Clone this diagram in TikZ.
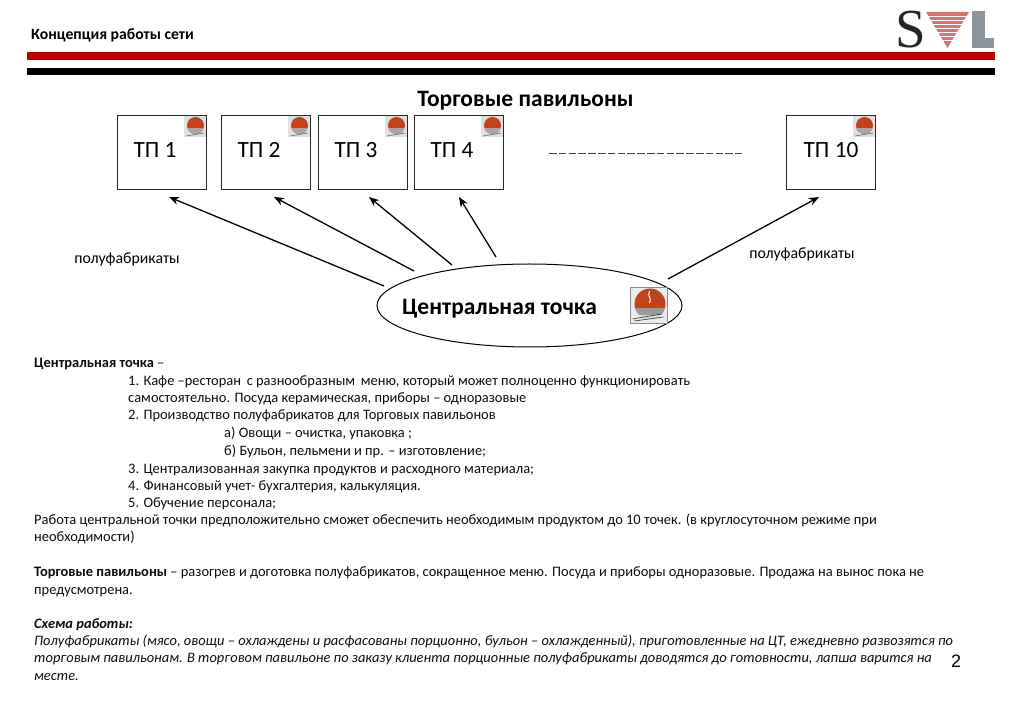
\documentclass[tikz,border=0pt]{standalone}
\usepackage{fontspec}
\setmainfont{Carlito}
\newfontfamily\lib{Liberation Sans}
\newfontfamily\libs{Liberation Serif}
\usetikzlibrary{arrows.meta,shapes.geometric}
\definecolor{svlred}{HTML}{C00000}
\definecolor{svlgray}{HTML}{8C959C}
\definecolor{logored}{HTML}{C4421A}
\tikzset{
  x=1pt,y=-1pt,
  tp/.style={draw=black!85,line width=1pt,fill=white,minimum width=89pt,minimum height=74pt,inner sep=0pt},
  tptext/.style={font=\fontsize{23.3}{25}\selectfont,anchor=base,inner sep=0pt},
  body/.style={font=\fontsize{14.45}{16}\selectfont,anchor=base west,inner sep=0pt,text=black!95},
  bodyi/.style={body,font=\fontsize{14.45}{16}\selectfont\itshape},
  lbl/.style={font=\fontsize{15.8}{17}\selectfont,anchor=base,inner sep=0pt},
  feed/.style={draw=black,line width=1.3pt,-{Stealth[length=10pt,width=8pt]}},
  pics/smalllogo/.style={code={
    \fill[black!12] (-11,-10.5) rectangle (11,10.5);
    \fill[logored] (0.5,-1.5) circle (8.5);
    \begin{scope}
      \clip (0.5,-1.5) circle (8.5);
      \fill[black!35] (-9,1.5) rectangle (10,7);
    \end{scope}
    \draw[black!60,line width=.6pt] (-9,9) -- (9,6);
  }},
  pics/biglogo/.style={code={
    \fill[black!8] (-18.5,-18) rectangle (18.5,18);
    \draw[black!45,line width=.6pt] (-18.5,-18) rectangle (18.5,18);
    \begin{scope}
      \clip (1.5,-1) circle (15.5);
      \fill[logored] (-15,-17) rectangle (18,3);
      \fill[black!40] (-15,3) rectangle (18,10);
      \fill[black!15] (-15,10) rectangle (18,15);
    \end{scope}
    \draw[white,line width=1pt] (1,-14) .. controls (-2,-9) and (4,-7) .. (1,-2);
    \draw[black!75,line width=.7pt] (-16,14) -- (13,9);
    \draw[black!75,line width=.7pt] (-14,16) -- (15,12);
  }}
}
\begin{document}
\begin{tikzpicture}
\useasboundingbox (0,0) rectangle (1023,708);
\fill[white] (0,0) rectangle (1023,708);
% header
\node[anchor=base west,inner sep=0pt,font=\fontsize{15.7}{17}\selectfont\bfseries] (head) at (31,40) {Концепция работы сети};
\fill[svlred] (27,52.5) rectangle (994.5,60.5);
\fill[black] (27,68) rectangle (994.5,75.5);
% SVL logo
\node[anchor=base,inner sep=0pt,font=\fontsize{55}{55}\selectfont\libs] (s) at (911,48) {\textcolor{black!85}{S}};
\fill[svlred!55!white] (926,12) -- (969,12) -- (947.5,48) -- cycle;
\foreach \yy in {16,20,24,28,32,36,40}{\draw[white,line width=.9pt] (926,\yy) -- (969,\yy);}
\fill[svlgray] (972,11) rectangle (985,48);
\fill[svlgray] (972,38) rectangle (994,48);
% title
\node[anchor=base,inner sep=0pt,font=\fontsize{23.5}{25}\selectfont\bfseries] (title) at (525.5,107) {Торговые павильоны};
% boxes
\node[tp] (t1) at (162,153) {};
\node[tp] (t2) at (266,153) {};
\node[tp] (t3) at (363,153) {};
\node[tp] (t4) at (459,153) {};
\node[tp] (t10) at (831,153) {};
\node[tptext] (l1) at (155,158) {ТП 1};
\node[tptext] (l2) at (259,158) {ТП 2};
\node[tptext] (l3) at (356,158) {ТП 3};
\node[tptext] (l4) at (452,158) {ТП 4};
\node[tptext] (l10) at (831,158) {ТП 10};
\pic at (195,127) {smalllogo};
\pic at (299,127) {smalllogo};
\pic at (396,127) {smalllogo};
\pic at (492,127) {smalllogo};
\pic at (864,127) {smalllogo};
% dashes
\coordinate (d1) at (549,153);
\coordinate (d2) at (742,153);
\draw[black!75,line width=.8pt,dash pattern=on 7.5pt off 2.3pt] (d1) -- (d2);
% ellipse
\node[draw=black,line width=1pt,fill=white,ellipse,minimum width=305pt,minimum height=83pt,inner sep=0pt] (c) at (529.5,305.5) {};
\node[anchor=base,inner sep=0pt,font=\fontsize{23.5}{25}\selectfont\bfseries] (ctext) at (499.5,315) {Центральная точка};
\pic at (648.5,305) {biglogo};
% arrows
\coordinate (a1) at (384,286); \coordinate (b1) at (169,197);
\coordinate (a2) at (414,271); \coordinate (b2) at (274,197);
\coordinate (a3) at (452,265); \coordinate (b3) at (369,197);
\coordinate (a4) at (496,257); \coordinate (b4) at (459,197);
\coordinate (a5) at (668,279); \coordinate (b5) at (819,197);
\draw[feed] (a1) -- (b1);
\draw[feed] (a2) -- (b2);
\draw[feed] (a3) -- (b3);
\draw[feed] (a4) -- (b4);
\draw[feed] (a5) -- (b5);
\node[lbl] (p1) at (127,263.5) {полуфабрикаты};
\node[lbl] (p2) at (802,258.5) {полуфабрикаты};
% body text
\node[body] (x1) at (34,368) {\textbf{Центральная точка} –};
\node[body] (x2) at (128,386) {1. Кафе –ресторан\, с разнообразным\, меню, который может полноценно функционировать};
\node[body] (x3) at (128,403) {самостоятельно. Посуда керамическая, приборы – одноразовые};
\node[body] (x4) at (128,420) {2. Производство полуфабрикатов для Торговых павильонов};
\node[body] (x5) at (224,438) {а) Овощи – очистка, упаковка ;};
\node[body] (x6) at (224,456) {б) Бульон, пельмени и пр. – изготовление;};
\node[body] (x7) at (128,473) {3. Централизованная закупка продуктов и расходного материала;};
\node[body] (x8) at (128,490) {4. Финансовый учет- бухгалтерия, калькуляция.};
\node[body] (x9) at (128,507) {5. Обучение персонала;};
\node[body] (x10) at (34,524) {Работа центральной точки предположительно сможет обеспечить необходимым продуктом до 10 точек. (в круглосуточном режиме при};
\node[body] (x11) at (34,541) {необходимости)};
\node[body] (x12) at (34,576) {\textbf{Торговые павильоны} – разогрев и доготовка полуфабрикатов, сокращенное меню. Посуда и приборы одноразовые. Продажа на вынос пока не};
\node[body] (x13) at (34,594) {предусмотрена.};
\node[bodyi] (x14) at (34,628) {\textbf{Схема работы:}};
\node[bodyi] (x15) at (34,645) {Полуфабрикаты (мясо, овощи – охлаждены и расфасованы порционно, бульон – охлажденный), приготовленные на ЦТ, ежедневно развозятся по};
\node[bodyi] (x16) at (34,662) {торговым павильонам. В торговом павильоне по заказу клиента порционные полуфабрикаты доводятся до готовности, лапша варится на};
\node[bodyi] (x17) at (34,680) {месте.};
\node[anchor=base,inner sep=0pt,font=\fontsize{18}{20}\selectfont\lib] (pg) at (956,667) {2};
\end{tikzpicture}
\end{document}
